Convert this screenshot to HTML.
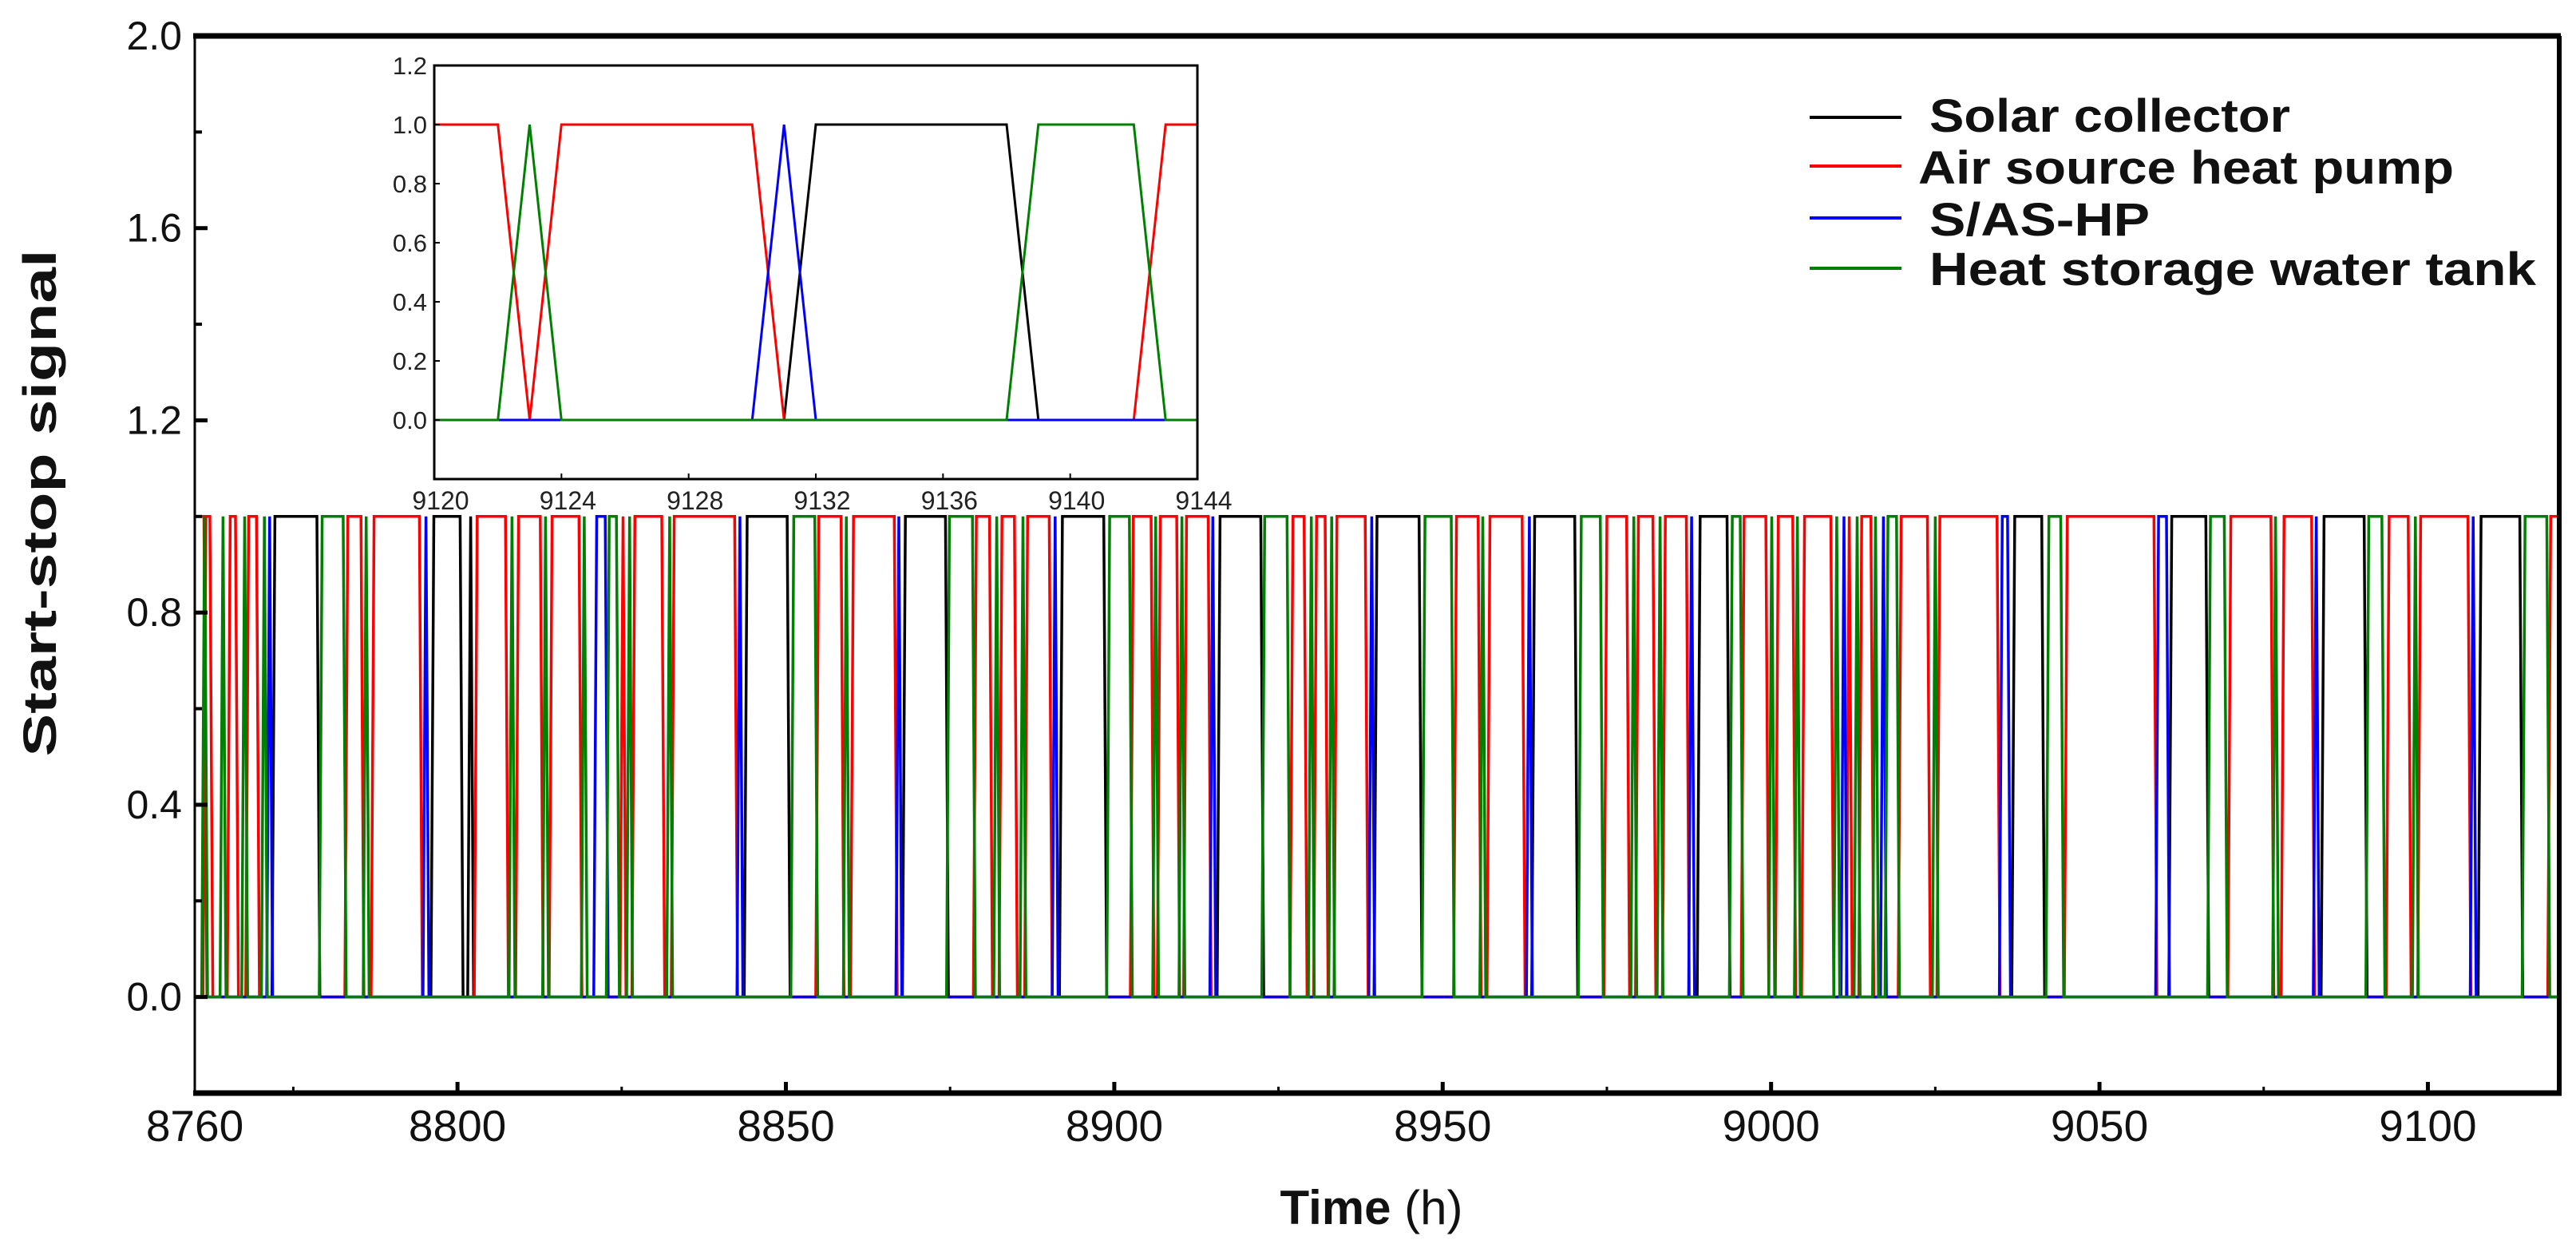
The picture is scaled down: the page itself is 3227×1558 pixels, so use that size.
<!DOCTYPE html>
<html><head><meta charset="utf-8">
<style>
html,body{margin:0;padding:0;background:#fff;}
svg{display:block;}
text{font-family:"Liberation Sans",sans-serif;}
</style></head>
<body>
<svg id="chart" xmlns="http://www.w3.org/2000/svg" width="3227" height="1558" viewBox="0 0 3227 1558">
<rect x="0" y="0" width="3227" height="1558" fill="#fff"/>
<defs><clipPath id="mainclip"><rect x="244" y="45" width="2962" height="1324"/></clipPath>
<clipPath id="insetclip"><rect x="544" y="82" width="956" height="518"/></clipPath></defs>
<g id="main-series" clip-path="url(#mainclip)"></g>
<g id="main-axes"></g>
<g id="inset"></g>
<g id="legend">
  <line x1="2267" y1="147" x2="2382" y2="147" stroke="#000" stroke-width="4"/>
  <text x="2417" y="165" font-size="58" font-weight="bold" fill="#111" textLength="452" lengthAdjust="spacingAndGlyphs">Solar collector</text>
  <line x1="2267" y1="208" x2="2382" y2="208" stroke="#ff0000" stroke-width="4"/>
  <text x="2403" y="230" font-size="58" font-weight="bold" fill="#111" textLength="671" lengthAdjust="spacingAndGlyphs">Air source heat pump</text>
  <line x1="2267" y1="273" x2="2382" y2="273" stroke="#0000ff" stroke-width="4"/>
  <text x="2417" y="295" font-size="58" font-weight="bold" fill="#111" textLength="276" lengthAdjust="spacingAndGlyphs">S/AS-HP</text>
  <line x1="2267" y1="336" x2="2382" y2="336" stroke="#008000" stroke-width="4"/>
  <text x="2417" y="357" font-size="58" font-weight="bold" fill="#111" textLength="760" lengthAdjust="spacingAndGlyphs">Heat storage water tank</text>
</g>
<text x="0" y="0" transform="translate(70,630) rotate(-90)" text-anchor="middle" font-size="58" font-weight="bold" fill="#111" textLength="635" lengthAdjust="spacingAndGlyphs">Start-stop signal</text>
<text x="1718" y="1533" text-anchor="middle" font-size="60" fill="#111"><tspan font-weight="bold">Time </tspan><tspan>(h)</tspan></text>
</svg>
<script>
// ---------- main chart data (on-intervals [start,end] in hours; start==end is a 1-hour spike) ----------
const solarOn = [[8772.2,8778.6],[8796.4,8800.4],[8802.0,8802.0],[8844.1,8850.2],[8868.2,8874.3],[8892.1,8898.4],[8916.1,8922.3],[8940.0,8946.4],[8964.0,8970.1],[8989.2,8993.3],[9037.1,9041.2],[9061.0,9066.2],[9084.2,9090.3],[9108.1,9114.0]];
const ashpOn = [[8760.0,8761.4],[8761.7,8762.3],[8765.4,8766.2],[8768.2,8769.4],[8783.3,8785.3],[8787.3,8794.2],[8803.0,8807.3],[8809.3,8812.6],[8814.4,8818.5],[8825.2,8825.2],[8827.0,8831.1],[8833.0,8842.2],[8855.0,8858.4],[8860.3,8866.5],[8879.0,8881.0],[8882.9,8884.8],[8886.8,8890.1],[8902.9,8905.6],[8907.0,8909.5],[8911.0,8914.3],[8927.2,8928.9],[8930.8,8932.1],[8933.9,8938.2],[8952.1,8955.4],[8957.2,8962.1],[8975.0,8978.0],[8979.8,8982.0],[8983.9,8987.1],[8995.9,8999.2],[9001.1,9003.3],[9005.1,9009.1],[9011.9,9011.9],[9013.8,9015.2],[9019.8,9023.8],[9025.7,9034.4],[9045.1,9058.3],[9070.0,9076.1],[9078.1,9082.3],[9094.1,9097.0],[9098.9,9106.1],[9118.7,9120]];
const sashpOn = [[8771.4,8771.4],[8795.2,8795.2],[8821.2,8822.5],[8843.0,8843.0],[8867.2,8867.2],[8891.0,8891.0],[8915.0,8915.0],[8939.2,8939.2],[8963.2,8963.2],[8987.9,8987.9],[9011.1,9011.1],[9017.1,9017.1],[9035.2,9036.0],[9059.0,9060.2],[9083.0,9083.0],[9106.9,9106.9]];
const tankOn = [[8761.5,8761.5],[8764.3,8764.3],[8767.6,8767.6],[8770.6,8770.6],[8779.4,8782.6],[8786.1,8786.1],[8808.3,8808.3],[8813.4,8813.4],[8819.3,8819.3],[8823.1,8824.2],[8826.2,8826.2],[8832.3,8832.3],[8851.2,8854.4],[8859.2,8859.2],[8874.9,8878.4],[8882.1,8882.1],[8886.1,8886.1],[8899.3,8902.3],[8906.3,8906.3],[8910.3,8910.3],[8922.9,8926.3],[8930.0,8930.0],[8933.1,8933.1],[8947.3,8951.3],[8956.1,8956.1],[8971.1,8974.0],[8979.1,8979.1],[8983.1,8983.1],[8994.1,8995.3],[9000.1,9000.1],[9004.0,9004.0],[9010.0,9010.0],[9013.1,9013.1],[9015.9,9015.9],[9017.8,9019.1],[9025.0,9025.0],[9042.3,9044.1],[9066.9,9069.0],[9076.8,9076.8],[9091.0,9093.0],[9098.1,9098.1],[9114.8,9118.1]];
const mainXTicks = [8760,8800,8850,8900,8950,9000,9050,9100];
const mainXMinor = [8775,8825,8875,8925,8975,9025,9075];
const mainYTicks = [0.0,0.4,0.8,1.2,1.6,2.0];
const mainYMinor = [-0.2,0.2,0.6,1.0,1.4,1.8];
// ---------- inset data (hourly 9120..9144) ----------
const insetHours = [9120,9121,9122,9123,9124,9125,9126,9127,9128,9129,9130,9131,9132,9133,9134,9135,9136,9137,9138,9139,9140,9141,9142,9143,9144];
const insetSolar = [0,0,0,0,0,0,0,0,0,0,0,0,1,1,1,1,1,1,1,0,0,0,0,0,0];
const insetAshp  = [1,1,1,0,1,1,1,1,1,1,1,0,0,0,0,0,0,0,0,0,0,0,0,1,1];
const insetSashp = [0,0,0,0,0,0,0,0,0,0,0,1,0,0,0,0,0,0,0,0,0,0,0,0,0];
const insetTank  = [0,0,0,1,0,0,0,0,0,0,0,0,0,0,0,0,0,0,0,1,1,1,1,0,0];
const insetXTicks = [9120,9124,9128,9132,9136,9140,9144];
const insetYTicks = [0.0,0.2,0.4,0.6,0.8,1.0,1.2];

const NS='http://www.w3.org/2000/svg';
const X0=8760,X1=9120,PX0=244,PX1=3206;
const Y0=-0.2,Y1=2.0,PY0=1369,PY1=45;
function mx(h){return PX0+(h-X0)/(X1-X0)*(PX1-PX0);}
function my(v){return PY0-(v-Y0)/(Y1-Y0)*(PY0-PY1);}
const IX0=9120,IX1=9144,IPX0=544,IPX1=1500;
const IY0=-0.2,IY1=1.2,IPY0=600,IPY1=82;
function ix(h){return IPX0+(h-IX0)/(IX1-IX0)*(IPX1-IPX0);}
function iy(v){return IPY0-(v-IY0)/(IY1-IY0)*(IPY0-IPY1);}
function mk(tag,attrs,parent){const e=document.createElementNS(NS,tag);for(const k in attrs)e.setAttribute(k,attrs[k]);parent.appendChild(e);return e;}

const RAMP=0.45;
function intervalPath(iv){
  let d='';
  const pts=[];
  if(iv.length&&iv[0][0]<=X0){pts.push([X0,1]);}else pts.push([X0,0]);
  iv.forEach(([s,e])=>{
    if(s>X0){pts.push([s-RAMP,0]);pts.push([s,1]);}
    pts.push([e,1]);pts.push([e+RAMP,0]);
  });
  pts.push([X1+1,0]);
  pts.forEach((p,i)=>{d+=(i?'L':'M')+mx(p[0]).toFixed(1)+' '+my(p[1]).toFixed(1);});
  return d;
}
const mg=document.getElementById('main-series');
const seriesDefs=[['solar-collector',solarOn,'#000000'],['air-source-heat-pump',ashpOn,'#ff0000'],['s-as-hp',sashpOn,'#0000ff'],['heat-storage-water-tank',tankOn,'#008000']];
seriesDefs.forEach(([name,iv,col])=>{
  const p=mk('path',{d:intervalPath(iv),fill:'none',stroke:col,'stroke-width':3.5,'stroke-linejoin':'miter'},mg);
  
  
});

// main axes
const ax=document.getElementById('main-axes');
const frame=mk('rect',{x:PX0,y:PY1,width:PX1-PX0,height:PY0-PY1,fill:'none',stroke:'#000','stroke-width':3},ax);


const topAx=mk('line',{x1:PX0-2,y1:PY1,x2:PX1+2,y2:PY1,stroke:'#000','stroke-width':7},ax);


const botAx=mk('line',{x1:PX0-2,y1:PY0,x2:PX1+3,y2:PY0,stroke:'#000','stroke-width':7},ax);


const rightAx=mk('line',{x1:PX1,y1:PY1,x2:PX1,y2:PY0,stroke:'#000','stroke-width':6},ax);


mainXTicks.forEach(t=>{
  const x=mx(t);
  if(t>X0){const l=mk('line',{x1:x,y1:PY0,x2:x,y2:PY0-14,stroke:'#000','stroke-width':5},ax);
  
  }
  const tx=mk('text',{x:x,y:1429,'text-anchor':'middle','font-size':55,fill:'#111'},ax);
  tx.textContent=String(t);
  
  
});
mainXMinor.forEach(t=>{
  const x=mx(t);
  const l=mk('line',{x1:x,y1:PY0,x2:x,y2:PY0-8,stroke:'#000','stroke-width':3},ax);
  
  
});
mainYTicks.forEach(v=>{
  const y=my(v);
  const l=mk('line',{x1:PX0,y1:y,x2:PX0+16,y2:y,stroke:'#000','stroke-width':5},ax);
  
  
  const tx=mk('text',{x:228,y:y+17,'text-anchor':'end','font-size':50,fill:'#111'},ax);
  tx.textContent=v.toFixed(1);
  
  
});
mainYMinor.forEach(v=>{
  const y=my(v);
  const l=mk('line',{x1:PX0,y1:y,x2:PX0+9,y2:y,stroke:'#000','stroke-width':4},ax);
  
  
});

// inset
const ig=document.getElementById('inset');
const ibg=mk('rect',{x:IPX0,y:IPY1,width:IPX1-IPX0,height:IPY0-IPY1,fill:'#fff',stroke:'none'},ig);


const isg=mk('g',{'clip-path':'url(#insetclip)'},ig);


[['solar-collector',insetSolar,'#000000'],['air-source-heat-pump',insetAshp,'#ff0000'],['s-as-hp',insetSashp,'#0000ff'],['heat-storage-water-tank',insetTank,'#008000']].forEach(([name,vals,col])=>{
  let d='';
  vals.forEach((v,i)=>{d+=(i?'L':'M')+ix(insetHours[i]).toFixed(1)+' '+iy(v).toFixed(1);});
  const p=mk('path',{d:d,fill:'none',stroke:col,'stroke-width':3},isg);
  
  
});
const ifr=mk('rect',{x:IPX0,y:IPY1,width:IPX1-IPX0,height:IPY0-IPY1,fill:'none',stroke:'#000','stroke-width':3},ig);


insetXTicks.forEach(t=>{
  const x=ix(t);
  const l=mk('line',{x1:x,y1:IPY0,x2:x,y2:IPY0-7,stroke:'#000','stroke-width':2},ig);
  
  
  const tx=mk('text',{x:x+8,y:638,'text-anchor':'middle','font-size':32,fill:'#222'},ig);
  tx.textContent=String(t);
  
  
});
insetYTicks.forEach(v=>{
  const y=iy(v);
  const l=mk('line',{x1:IPX0,y1:y,x2:IPX0+7,y2:y,stroke:'#000','stroke-width':2},ig);
  
  
  const tx=mk('text',{x:535,y:y+11,'text-anchor':'end','font-size':31,fill:'#222'},ig);
  tx.textContent=v.toFixed(1);
  
  
});
</script>
</body></html>
